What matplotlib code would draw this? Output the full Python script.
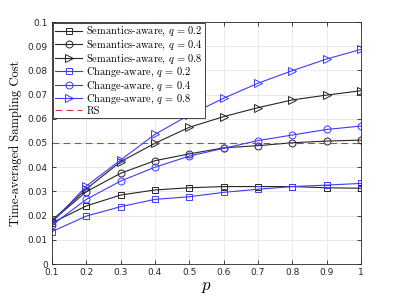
import matplotlib
matplotlib.use("Agg")
import matplotlib.pyplot as plt

p = [0.1, 0.2, 0.3, 0.4, 0.5, 0.6, 0.7, 0.8, 0.9, 1.0]

sem_q02 = [0.0170, 0.0240, 0.0285, 0.0306, 0.0315, 0.0320, 0.0320, 0.0320, 0.0315, 0.0313]
sem_q04 = [0.0178, 0.0299, 0.0375, 0.0427, 0.0455, 0.0480, 0.0489, 0.0501, 0.0508, 0.0512]
sem_q08 = [0.0180, 0.0310, 0.0423, 0.0499, 0.0565, 0.0609, 0.0646, 0.0678, 0.0698, 0.0716]
chg_q02 = [0.0134, 0.0198, 0.0237, 0.0267, 0.0278, 0.0296, 0.0309, 0.0320, 0.0326, 0.0333]
chg_q04 = [0.0161, 0.0267, 0.0343, 0.0400, 0.0446, 0.0478, 0.0510, 0.0533, 0.0556, 0.0570]
chg_q08 = [0.0172, 0.0322, 0.0430, 0.0536, 0.0616, 0.0685, 0.0747, 0.0799, 0.0847, 0.0887]
rs_level = 0.05

labels = [r"Semantics-aware, $q\,=\,0.2$",
          r"Semantics-aware, $q\,=\,0.4$",
          r"Semantics-aware, $q\,=\,0.8$",
          r"Change-aware, $q\,=\,0.2$",
          r"Change-aware, $q\,=\,0.4$",
          r"Change-aware, $q\,=\,0.8$",
          "RS"]

xticks = [0.1, 0.2, 0.3, 0.4, 0.5, 0.6, 0.7, 0.8, 0.9, 1]
xticklabels = ["0.1", "0.2", "0.3", "0.4", "0.5", "0.6", "0.7", "0.8", "0.9", "1"]
yticks = [0, 0.01, 0.02, 0.03, 0.04, 0.05, 0.06, 0.07, 0.08, 0.09, 0.1]
yticklabels = ["0", "0.01", "0.02", "0.03", "0.04", "0.05", "0.06", "0.07", "0.08", "0.09", "0.1"]

plt.rcParams['mathtext.fontset'] = 'cm'

fig = plt.figure(figsize=(3.99, 2.99), dpi=100)
ax = fig.add_axes([52/399, 35/299, 309/399, 242/299])

black = '#262626'
blue = '#3b3bff'
lw = 0.8
series = [
    (sem_q02, black, 's'),
    (sem_q04, black, 'o'),
    (sem_q08, black, '>'),
    (chg_q02, blue, 's'),
    (chg_q04, blue, 'o'),
    (chg_q08, blue, '>'),
]
for (vals, col, mk), lab in zip(series, labels[:6]):
    ax.plot(p, vals, color=col, marker=mk, markersize=5 if mk != '>' else 6,
            markerfacecolor='none', markeredgecolor=col, markeredgewidth=0.7,
            linewidth=lw, label=lab)
ax.axhline(rs_level, color='#e03030', linestyle=(0, (6, 4)), linewidth=0.8, label=labels[6])

ax.set_xlim(0.1, 1)
ax.set_ylim(0, 0.1)
ax.set_xticks(xticks)
ax.set_xticklabels(xticklabels)
ax.set_yticks(yticks)
ax.set_yticklabels(yticklabels)
ax.tick_params(direction='in', top=True, right=True, labelsize=6.5, length=3,
               width=0.6, colors='#262626', pad=3)
ax.grid(True, color='#e6e6e6', linewidth=0.6)
ax.set_axisbelow(True)
for s in ax.spines.values():
    s.set_color('#262626')
    s.set_linewidth(0.6)

ax.set_xlabel(r"$p$", fontsize=12, labelpad=0)
ax.set_ylabel("Time-averaged Sampling Cost", family='cmr10', fontsize=9, labelpad=4)

leg = ax.legend(loc='upper left', prop={'family': 'cmr10', 'size': 7.5},
                frameon=True, fancybox=False, edgecolor='#262626', framealpha=1,
                borderpad=0.2, labelspacing=0.02, handlelength=2.6, handletextpad=0.4,
                borderaxespad=0.1)
leg.get_frame().set_linewidth(0.6)

fig.savefig("out.png", dpi=100)
